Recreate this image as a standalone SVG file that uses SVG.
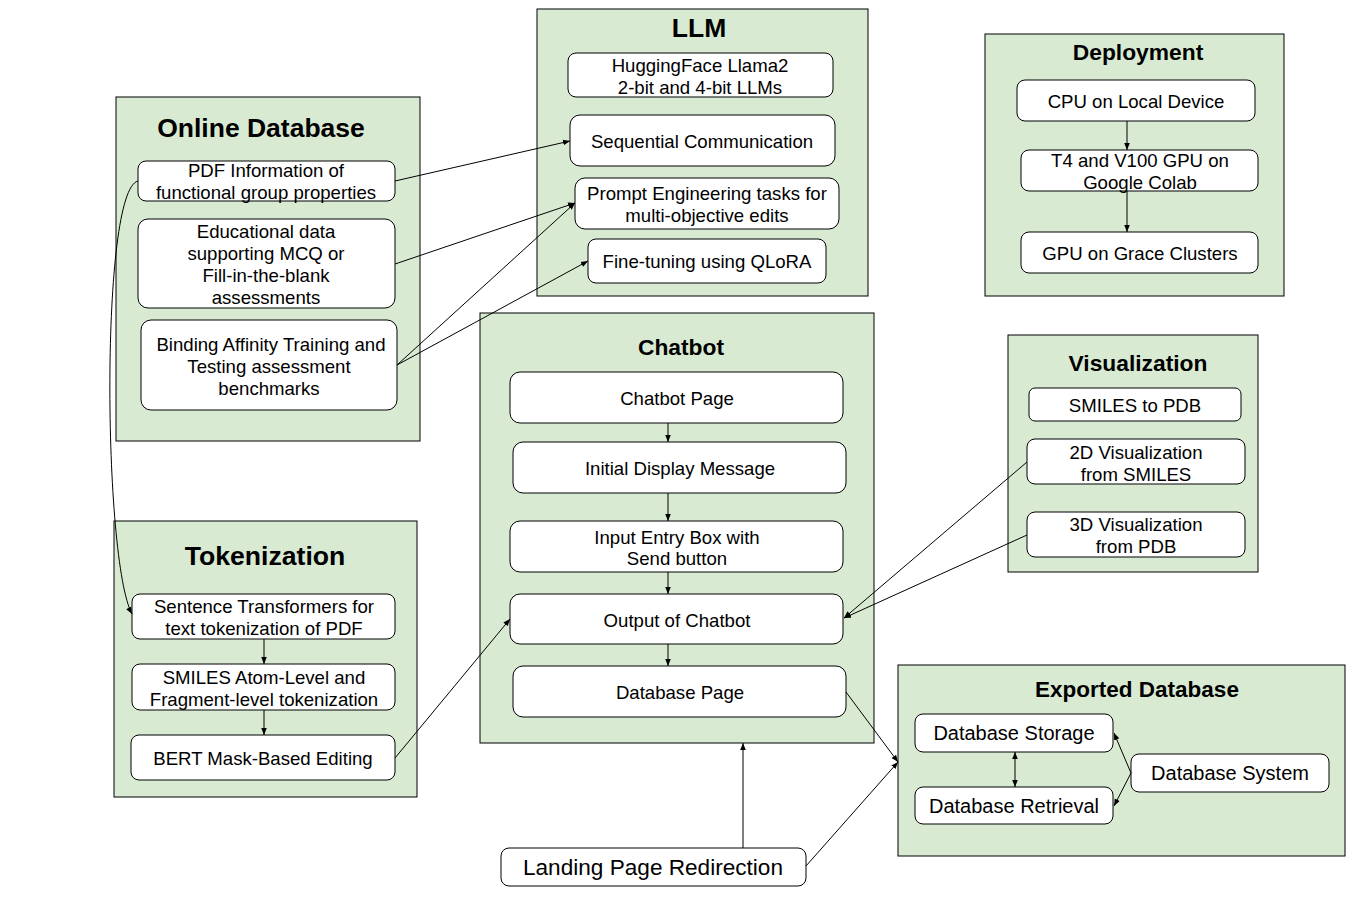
<svg xmlns="http://www.w3.org/2000/svg" width="1354" height="902" viewBox="0 0 1354 902">
<defs>
<style>
.grp{fill:#d9ead3;stroke:#000;stroke-width:1}
.box{fill:#fff;stroke:#000;stroke-width:1}
text{font-family:"Liberation Sans",Arial,sans-serif;fill:#000;text-anchor:middle;dominant-baseline:central}
.t{font-size:18.6px}
.h{font-weight:bold}
.c{fill:none;stroke:#000;stroke-width:1}
</style>
<marker id="ah" viewBox="0 0 10 10" refX="10" refY="5" markerWidth="7" markerHeight="7" orient="auto" markerUnits="userSpaceOnUse"><path d="M0,1 L10,5 L0,9 z" fill="#000"/></marker>
<marker id="as" viewBox="0 0 10 10" refX="0" refY="5" markerWidth="7" markerHeight="7" orient="auto" markerUnits="userSpaceOnUse"><path d="M10,1 L0,5 L10,9 z" fill="#000"/></marker>
</defs>
<rect width="1354" height="902" fill="#fff"/>

<g id="online-database">
<rect class="grp" x="116" y="97" width="304" height="344"/>
<text x="261" y="128" font-size="26.5" class="h">Online Database</text>
<g id="pdf-info"><rect class="box" x="138" y="161" width="257" height="40" rx="8"/><text class="t" x="266" y="170">PDF Information of</text><text class="t" x="266" y="192">functional group properties</text></g>
<g id="edu-data"><rect class="box" x="138" y="219" width="257" height="89" rx="10"/><text class="t" x="266" y="231">Educational data</text><text class="t" x="266" y="253">supporting MCQ or</text><text class="t" x="266" y="275">Fill-in-the-blank</text><text class="t" x="266" y="297">assessments</text></g>
<g id="binding"><rect class="box" x="141" y="320" width="256" height="90" rx="10"/><text class="t" x="271" y="344">Binding Affinity Training and</text><text class="t" x="269" y="366">Testing assessment</text><text class="t" x="269" y="388">benchmarks</text></g>
</g>

<g id="llm">
<rect class="grp" x="537" y="9" width="331" height="287"/>
<text x="699" y="28" font-size="26.5" class="h">LLM</text>
<g id="hf"><rect class="box" x="568" y="53" width="265" height="44" rx="8"/><text class="t" x="700" y="65">HuggingFace Llama2</text><text class="t" x="700" y="87">2-bit and 4-bit LLMs</text></g>
<g id="seq"><rect class="box" x="570" y="115" width="265" height="51" rx="10"/><text class="t" x="702" y="141">Sequential Communication</text></g>
<g id="prompt"><rect class="box" x="575" y="178" width="264" height="51" rx="10"/><text class="t" x="707" y="193">Prompt Engineering tasks for</text><text class="t" x="707" y="215">multi-objective edits</text></g>
<g id="finetune"><rect class="box" x="588" y="239" width="238" height="44" rx="8"/><text class="t" x="707" y="261">Fine-tuning using QLoRA</text></g>
</g>

<g id="deployment">
<rect class="grp" x="985" y="34" width="299" height="262"/>
<text x="1138" y="52" font-size="22.8" class="h">Deployment</text>
<g id="cpu"><rect class="box" x="1017" y="80" width="238" height="41" rx="8"/><text class="t" x="1136" y="101">CPU on Local Device</text></g>
<g id="t4"><rect class="box" x="1021" y="150" width="237" height="41" rx="8"/><text class="t" x="1140" y="160">T4 and V100 GPU on</text><text class="t" x="1140" y="182">Google Colab</text></g>
<g id="grace"><rect class="box" x="1021" y="232" width="237" height="41" rx="8"/><text class="t" x="1140" y="253">GPU on Grace Clusters</text></g>
</g>

<g id="chatbot">
<rect class="grp" x="480" y="313" width="394" height="430"/>
<text x="681" y="347" font-size="22.8" class="h">Chatbot</text>
<g id="chat-page"><rect class="box" x="510" y="372" width="333" height="51" rx="10"/><text class="t" x="677" y="398">Chatbot Page</text></g>
<g id="initial"><rect class="box" x="513" y="442" width="333" height="51" rx="10"/><text class="t" x="680" y="468">Initial Display Message</text></g>
<g id="input"><rect class="box" x="510" y="521" width="333" height="51" rx="10"/><text class="t" x="677" y="537">Input Entry Box with</text><text class="t" x="677" y="558">Send button</text></g>
<g id="output"><rect class="box" x="510" y="594" width="333" height="50" rx="10"/><text class="t" x="677" y="620">Output of Chatbot</text></g>
<g id="db-page"><rect class="box" x="513" y="666" width="333" height="51" rx="10"/><text class="t" x="680" y="692">Database Page</text></g>
</g>

<g id="visualization">
<rect class="grp" x="1008" y="335" width="250" height="237"/>
<text x="1138" y="363" font-size="22.8" class="h">Visualization</text>
<g id="smiles-pdb"><rect class="box" x="1029" y="388" width="212" height="33" rx="6"/><text class="t" x="1135" y="405">SMILES to PDB</text></g>
<g id="vis2d"><rect class="box" x="1027" y="439" width="218" height="45" rx="8"/><text class="t" x="1136" y="452">2D Visualization</text><text class="t" x="1136" y="474">from SMILES</text></g>
<g id="vis3d"><rect class="box" x="1027" y="512" width="218" height="45" rx="8"/><text class="t" x="1136" y="524">3D Visualization</text><text class="t" x="1136" y="546">from PDB</text></g>
</g>

<g id="tokenization">
<rect class="grp" x="114" y="521" width="303" height="276"/>
<text x="265" y="556" font-size="26.6" class="h">Tokenization</text>
<g id="sentence"><rect class="box" x="132" y="594" width="263" height="45" rx="8"/><text class="t" x="264" y="606">Sentence Transformers for</text><text class="t" x="264" y="628">text tokenization of PDF</text></g>
<g id="smiles-tok"><rect class="box" x="132" y="664" width="263" height="46" rx="8"/><text class="t" x="264" y="677">SMILES Atom-Level and</text><text class="t" x="264" y="699">Fragment-level tokenization</text></g>
<g id="bert"><rect class="box" x="131" y="735" width="264" height="45" rx="8"/><text class="t" x="263" y="758">BERT Mask-Based Editing</text></g>
</g>

<g id="exported-database">
<rect class="grp" x="898" y="665" width="447" height="191"/>
<text x="1137" y="689" font-size="22.5" class="h">Exported Database</text>
<g id="storage"><rect class="box" x="915" y="714" width="198" height="38" rx="8"/><text x="1014" y="733" font-size="20">Database Storage</text></g>
<g id="retrieval"><rect class="box" x="915" y="787" width="198" height="37" rx="8"/><text x="1014" y="806" font-size="20">Database Retrieval</text></g>
<g id="system"><rect class="box" x="1131" y="754" width="198" height="38" rx="8"/><text x="1230" y="773" font-size="20">Database System</text></g>
</g>

<g id="landing">
<rect class="box" x="501" y="848" width="305" height="38" rx="8"/>
<text x="653" y="867" font-size="22.6">Landing Page Redirection</text>
</g>

<g id="connectors">
<path class="c" d="M395,181 L570,141" marker-end="url(#ah)"/>
<path class="c" d="M395,264 L575,203" marker-end="url(#ah)"/>
<path class="c" d="M397,365 L575,203" marker-end="url(#ah)"/>
<path class="c" d="M397,365 L588,261" marker-end="url(#ah)"/>
<path class="c" d="M138,181 C100,190 103,560 132,614" marker-end="url(#ah)"/>
<path class="c" d="M264,639 L264,664" marker-end="url(#ah)"/>
<path class="c" d="M264,710 L264,735" marker-end="url(#ah)"/>
<path class="c" d="M395,758 L510,619" marker-end="url(#ah)"/>
<path class="c" d="M668,423 L668,442" marker-end="url(#ah)"/>
<path class="c" d="M668,493 L668,521" marker-end="url(#ah)"/>
<path class="c" d="M668,572 L668,594" marker-end="url(#ah)"/>
<path class="c" d="M668,644 L668,666" marker-end="url(#ah)"/>
<path class="c" d="M1027,462 L844,618" marker-end="url(#ah)"/>
<path class="c" d="M1027,535 L844,618" marker-end="url(#ah)"/>
<path class="c" d="M846,692 L898,762" marker-end="url(#ah)"/>
<path class="c" d="M806,866 L898,762" marker-end="url(#ah)"/>
<path class="c" d="M743,848 L743,743" marker-end="url(#ah)"/>
<path class="c" d="M1127,121 L1127,150" marker-end="url(#ah)"/>
<path class="c" d="M1127,191 L1127,232" marker-end="url(#ah)"/>
<path class="c" d="M1015,752 L1015,787" marker-start="url(#as)" marker-end="url(#ah)"/>
<path class="c" d="M1131,773 L1114,733" marker-end="url(#ah)"/>
<path class="c" d="M1131,773 L1114,806" marker-end="url(#ah)"/>
</g>
</svg>
